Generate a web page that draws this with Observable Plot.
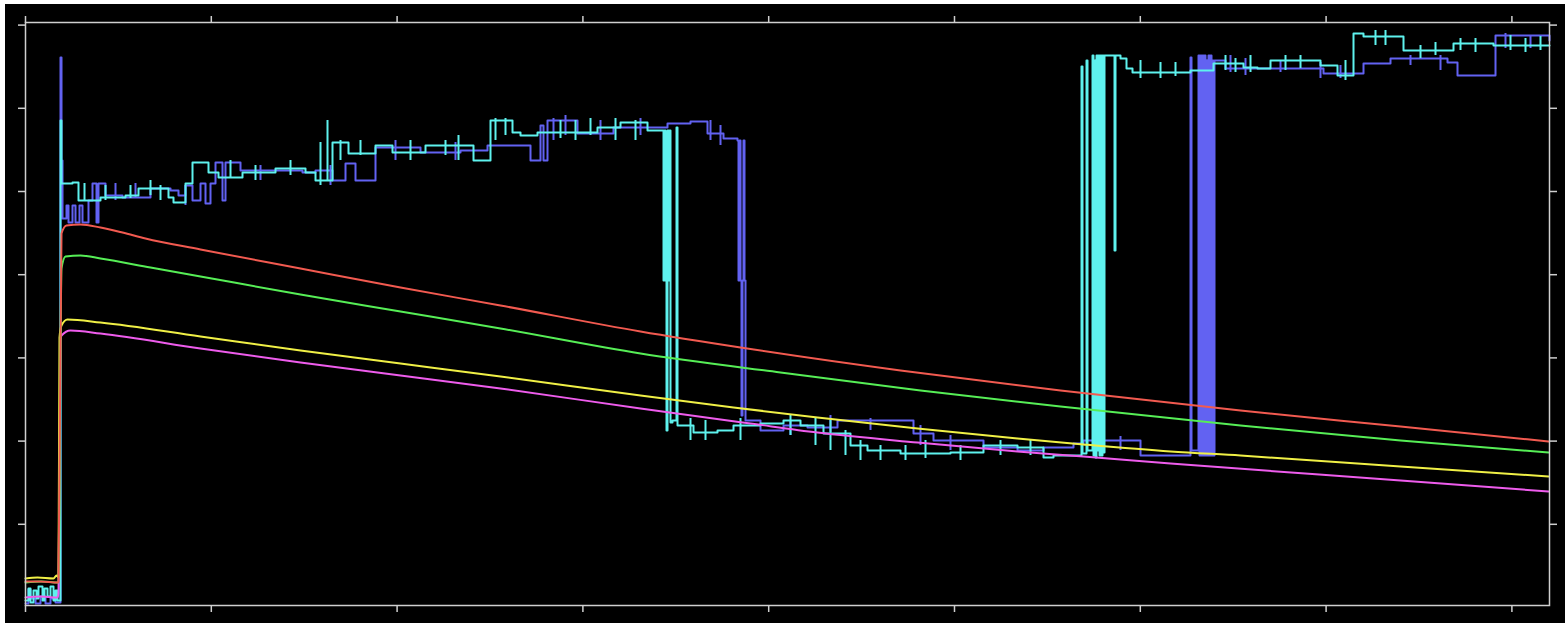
<!DOCTYPE html>
<html>
<head>
<meta charset="utf-8">
<script src="https://cdn.jsdelivr.net/npm/d3@7"></script>
<script src="https://cdn.jsdelivr.net/npm/@observablehq/plot@0.6"></script>
<style>
  html, body { margin: 0; padding: 0; background: #ffffff; }
  #chart { position: absolute; left: 5px; top: 4px; width: 1560px; height: 619px; background: #000; }
  #chart svg { display: block; }
</style>
</head>
<body>
<div id="chart"></div>
<script>
// Tick positions (no labels are printed on this strip chart)
const timeTicks = [0, 18.58, 37.16, 55.74, 74.32, 92.9, 111.48, 130.06, 148.64];
const levelTicks = [8.32, 16.64, 24.96, 33.28, 41.6, 49.92, 58.24];

// Slowly decaying channels: [t, level]
const redTrace = [
  [0, 2.6], [1.5, 2.6], [3.2, 2.5], [3.3, 2.6], [3.6, 37.4], [4.1, 38.2], [5.5, 38.3], [7.5, 38.0],
  [9.7, 37.5], [12.0, 36.9], [17.5, 35.8], [27.5, 33.9], [37.5, 32.0], [47.5, 30.2], [61.5, 27.6],
  [71.5, 26.0], [87.5, 23.7], [103.5, 21.7], [121.5, 19.7], [137.5, 18.1], [152.3, 16.6]
];
const greenTrace = [
  [0, 2.5], [1.6, 2.6], [3.3, 2.5], [3.6, 33.9], [4.0, 35.1], [5.5, 35.2], [7.5, 34.9], [12.5, 34.0],
  [17.5, 33.1], [27.5, 31.3], [37.5, 29.6], [47.5, 27.9], [61.5, 25.4], [75.5, 23.5], [89.5, 21.7],
  [103.5, 20.1], [121.5, 18.2], [137.5, 16.7], [152.3, 15.5]
];
const yellowTrace = [
  [0, 2.9], [1.2, 3.0], [2.8, 2.9], [3.1, 3.2], [3.3, 3.0], [3.4, 27.0], [3.6, 28.2], [4.2, 28.8],
  [7.5, 28.5], [17.5, 27.1], [27.5, 25.7], [37.5, 24.4], [47.5, 23.1], [61.5, 21.2], [70.8, 20.0],
  [79.2, 19.0], [89.2, 17.9], [99.2, 16.9], [105.8, 16.3], [114.5, 15.6], [121.5, 15.2],
  [137.5, 14.1], [152.3, 13.1]
];
const magentaTrace = [
  [0, 1.0], [1.5, 1.1], [3.2, 1.0], [3.3, 1.4], [3.5, 26.5], [3.6, 27.2], [4.5, 27.7], [7.5, 27.4],
  [17.5, 25.9], [27.5, 24.5], [37.5, 23.2], [47.5, 21.9], [61.5, 19.9], [72.5, 18.4], [79.2, 17.5],
  [89.2, 16.5], [99.2, 15.6], [105.8, 15.1], [114.5, 14.4], [137.5, 12.7], [152.3, 11.6]
];

// Stepping channels: [t, level], held until the next sample
const cyanSteps = [
  [0, 0.7], [0.3, 1.9], [0.5, 0.5], [0.8, 1.7], [1.1, 0.9], [1.3, 2.1], [1.7, 0.7], [1.9, 1.9],
  [2.2, 1.1], [2.5, 2.1], [2.8, 0.7], [3.0, 1.7], [3.2, 0.7], [3.5, 48.7], [3.6, 42.4],
  [4.7, 42.5], [5.3, 40.7], [6.3, 40.7], [7.5, 41.0], [10.0, 41.2], [11.3, 41.9], [14.3, 41.0],
  [14.8, 40.5], [16.0, 42.4], [16.7, 44.5], [18.3, 43.5], [19.3, 43.0], [21.7, 43.5], [25.0, 43.9],
  [28.0, 43.5], [29.0, 42.7], [30.7, 46.5], [32.3, 45.4], [35.0, 46.2], [36.7, 45.5], [40.0, 46.2],
  [44.8, 44.7], [46.5, 48.7], [48.7, 47.5], [49.5, 47.2], [51.2, 47.5], [57.2, 48.0], [59.5, 48.5],
  [62.2, 47.7], [63.8, 32.7], [63.9, 47.7], [64.0, 32.7], [64.1, 17.7], [64.2, 47.7], [64.3, 32.7],
  [64.4, 47.7], [64.5, 18.5], [64.7, 18.7], [65.1, 48.0], [65.2, 18.2], [66.8, 17.5], [69.2, 17.7],
  [70.8, 18.2], [73.5, 18.4], [75.8, 18.7], [77.5, 18.2], [79.8, 17.4], [82.5, 16.2], [84.2, 15.7],
  [87.5, 15.4], [92.5, 15.5], [95.8, 16.2], [99.2, 16.0], [101.8, 15.0], [102.8, 15.2],
  [105.6, 54.1], [105.7, 15.4], [106.1, 54.7], [106.2, 15.7], [106.7, 55.2], [106.8, 15.2],
  [106.9, 54.7], [107.0, 15.0], [107.1, 55.2], [107.2, 15.7], [107.3, 55.2], [107.4, 15.2],
  [107.5, 55.2], [107.6, 15.2], [107.7, 55.2], [107.8, 15.5], [107.9, 55.2], [108.9, 35.7],
  [109.0, 55.2], [109.5, 54.9], [110.1, 53.9], [110.7, 53.5], [116.5, 53.7], [118.8, 54.4],
  [121.8, 54.0], [123.2, 53.9], [124.5, 54.7], [129.5, 54.2], [131.2, 53.2], [132.8, 57.4],
  [133.8, 57.1], [137.8, 55.7], [142.8, 56.4], [146.8, 56.2], [152.4, 56.2]
];
const blueSteps = [
  [0, 0.4], [0.3, 1.8], [0.5, 0.9], [1.0, 0.4], [1.5, 1.1], [2.0, 0.4], [2.5, 0.9], [3.0, 0.5],
  [3.5, 55.0], [3.6, 44.7], [3.7, 38.9], [4.1, 40.2], [4.3, 38.5], [4.7, 40.2], [5.0, 38.5],
  [5.4, 40.2], [5.7, 38.5], [6.3, 40.7], [6.7, 42.4], [7.1, 38.5], [7.3, 42.4], [8.0, 41.2],
  [9.7, 41.0], [12.5, 41.9], [14.5, 41.7], [15.3, 41.2], [16.0, 42.2], [16.7, 40.7], [17.5, 42.4],
  [18.0, 40.4], [18.5, 42.4], [19.0, 44.5], [19.7, 40.7], [20.0, 44.5], [21.5, 43.7], [27.7, 43.5],
  [29.0, 43.7], [30.7, 42.7], [32.0, 44.4], [33.0, 42.7], [35.0, 46.0], [39.5, 45.5], [43.5, 45.7],
  [46.2, 46.2], [50.5, 44.7], [51.5, 48.2], [51.8, 44.7], [52.2, 48.7], [55.2, 47.4], [58.8, 48.0],
  [64.2, 48.4], [66.5, 48.6], [68.2, 47.4], [69.8, 46.9], [71.2, 46.7], [71.3, 32.7], [71.4, 46.7],
  [71.5, 32.7], [71.6, 19.2], [71.7, 32.7], [71.8, 46.7], [71.9, 32.7], [72.0, 18.7], [73.5, 17.7],
  [74.2, 17.7], [75.8, 18.2], [78.2, 18.0], [81.2, 18.7], [85.8, 18.7], [88.8, 17.4], [90.8, 16.7],
  [95.8, 16.0], [99.2, 15.7], [101.8, 16.0], [104.8, 16.4], [105.8, 16.7], [110.5, 16.7],
  [111.5, 15.2], [114.2, 15.2], [116.5, 55.0], [116.6, 15.7], [117.3, 55.2], [117.4, 15.2],
  [117.5, 55.2], [117.6, 15.2], [117.7, 55.2], [117.8, 15.2], [117.9, 55.2], [118.0, 15.2],
  [118.1, 54.7], [118.2, 15.2], [118.3, 55.2], [118.4, 15.2], [118.5, 55.2], [118.6, 15.2],
  [118.7, 54.7], [118.8, 15.2], [118.9, 54.7], [119.0, 54.7], [120.0, 53.9], [123.2, 53.9],
  [127.8, 53.9], [129.8, 53.4], [133.8, 54.4], [136.5, 54.9], [142.2, 54.5], [143.2, 53.2],
  [147.0, 57.2], [152.4, 56.7]
];

// Short excursions between samples: [t, level from, level to]
const cyanGlitches = [
  [5.9, 42.4, 40.7], [8.0, 42.2, 40.7], [10.5, 42.2, 40.9], [12.5, 42.7, 41.2], [13.5, 42.2, 40.7],
  [20.5, 44.7, 42.9], [23.0, 44.2, 42.7], [26.5, 44.7, 43.2], [29.5, 46.5, 42.2], [30.2, 48.7, 42.7],
  [31.5, 46.7, 44.7], [33.5, 46.7, 45.2], [38.5, 46.7, 44.7], [42.0, 46.7, 45.2], [43.3, 47.2, 44.7],
  [47.0, 48.9, 46.7], [48.0, 48.9, 47.2], [53.5, 48.7, 46.9], [55.0, 48.7, 46.7], [56.5, 48.9, 47.2],
  [59.0, 48.9, 46.7], [61.0, 48.7, 46.7], [66.5, 18.9, 16.7], [68.0, 18.7, 16.7], [71.5, 18.9, 16.7],
  [76.5, 19.2, 17.2], [79.0, 18.9, 16.2], [80.5, 18.7, 15.7], [82.0, 17.7, 15.2], [83.5, 16.7, 14.7],
  [85.5, 16.2, 14.7], [88.0, 16.2, 14.7], [90.0, 16.7, 14.9], [93.5, 16.2, 14.7], [97.5, 16.7, 15.2],
  [100.5, 16.7, 15.2], [111.5, 54.7, 52.9], [113.5, 54.5, 52.9], [115.0, 54.5, 53.1],
  [120.0, 55.2, 53.7], [121.0, 54.9, 53.5], [122.5, 55.2, 53.5], [126.0, 55.2, 53.7],
  [127.5, 55.2, 53.9], [132.0, 54.7, 52.7], [135.0, 57.7, 56.2], [136.0, 57.7, 56.2],
  [139.5, 56.2, 54.9], [141.0, 56.5, 55.2], [143.5, 56.9, 55.7], [145.0, 56.9, 55.5],
  [148.5, 57.2, 55.7], [150.0, 56.9, 55.5], [151.5, 57.1, 55.7]
];
const blueGlitches = [
  [9.0, 42.4, 40.7], [11.0, 42.4, 40.9], [16.0, 42.2, 40.2], [23.5, 44.2, 42.7], [30.5, 44.2, 42.2],
  [37.0, 46.7, 44.7], [43.0, 46.5, 44.7], [52.8, 48.9, 46.7], [54.0, 49.2, 47.2], [57.5, 48.7, 46.7],
  [61.5, 48.9, 47.2], [68.5, 48.7, 46.7], [69.5, 48.2, 46.2], [76.5, 18.7, 17.2], [80.5, 19.2, 17.5],
  [84.5, 18.9, 17.7], [89.5, 18.2, 16.2], [92.5, 17.2, 15.7], [107.5, 16.9, 15.5], [109.5, 17.1, 15.7],
  [120.5, 55.2, 53.5], [122.0, 54.9, 53.2], [125.5, 54.7, 53.5], [129.5, 54.5, 52.9],
  [131.5, 54.2, 52.9], [138.5, 55.2, 54.2], [141.5, 55.2, 53.7], [148.0, 57.4, 55.9],
  [150.5, 57.2, 55.9]
];

const axisColor = "#cfcfcf";
const tickStyle = {tickSize: 7, tickFormat: () => "", stroke: axisColor, strokeWidth: 1.5};
const lineW = 2;
const pt = {x: d => d[0], y: d => d[1]};
const glitch = {x: d => d[0], y1: d => d[1], y2: d => d[2]};

const chart = Plot.plot({
  width: 1560,
  height: 619,
  marginLeft: 20,
  marginRight: 16,
  marginTop: 18,
  marginBottom: 18,
  style: {background: "#000", overflow: "visible"},
  x: {domain: [0, 152.4]},
  y: {domain: [0.2, 58.5]},
  marks: [
    Plot.axisX(timeTicks, {anchor: "bottom", ...tickStyle}),
    Plot.axisX(timeTicks, {anchor: "top", ...tickStyle}),
    Plot.axisY(levelTicks, {anchor: "left", ...tickStyle}),
    Plot.axisY(levelTicks, {anchor: "right", ...tickStyle}),
    Plot.line(blueSteps, {...pt, stroke: "#6262f2", strokeWidth: lineW, curve: "step-after"}),
    Plot.ruleX(blueGlitches, {...glitch, stroke: "#6262f2", strokeWidth: lineW}),
    Plot.line(cyanSteps, {...pt, stroke: "#5ef2ee", strokeWidth: lineW, curve: "step-after"}),
    Plot.ruleX(cyanGlitches, {...glitch, stroke: "#5ef2ee", strokeWidth: lineW}),
    Plot.line(magentaTrace, {...pt, stroke: "#ee5cec", strokeWidth: lineW, curve: "monotone-x"}),
    Plot.line(yellowTrace, {...pt, stroke: "#f0f046", strokeWidth: lineW, curve: "monotone-x"}),
    Plot.line(greenTrace, {...pt, stroke: "#56ee56", strokeWidth: lineW, curve: "monotone-x"}),
    Plot.line(redTrace, {...pt, stroke: "#f25a50", strokeWidth: lineW, curve: "monotone-x"}),
    Plot.frame({stroke: axisColor, strokeWidth: 1.5})
  ]
});
document.getElementById("chart").appendChild(chart);
</script>
</body>
</html>
